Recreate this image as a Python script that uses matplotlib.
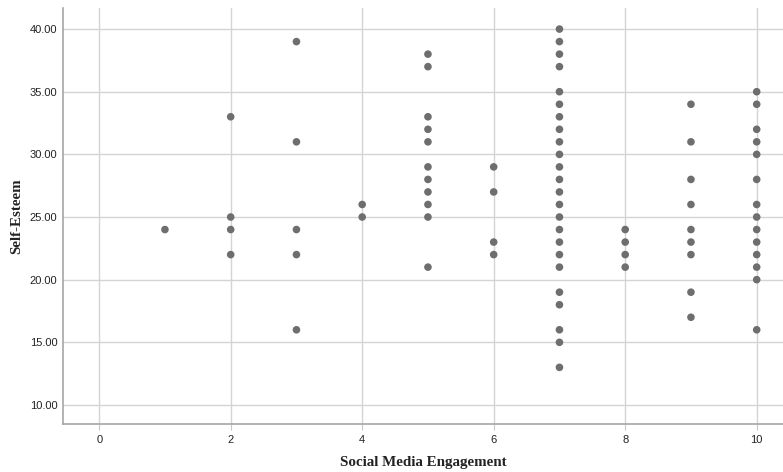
import matplotlib
matplotlib.use("Agg")
import matplotlib.pyplot as plt
import numpy as np

# Data: Social Media Engagement (x) vs Self-Esteem (y)
x1 = [1]
y1 = [24]
x2 = [2] * 4
y2 = [33, 25, 24, 22]
x3 = [3] * 5
y3 = [39, 31, 24, 22, 16]
x4 = [4] * 2
y4 = [26, 25]
x5 = [5] * 11
y5 = [38, 37, 33, 32, 31, 29, 28, 27, 26, 25, 21]
x6 = [6] * 4
y6 = [29, 27, 23, 22]
x7 = [7] * 24
y7 = [40, 39, 38, 37, 35, 34, 33, 32, 31, 30, 29, 28, 27, 26, 25, 24, 23, 22, 21, 19, 18, 16, 15, 13]
x8 = [8] * 4
y8 = [24, 23, 22, 21]
x9 = [9] * 9
y9 = [34, 31, 28, 26, 24, 23, 22, 19, 17]
x10 = [10] * 14
y10 = [35, 34, 32, 31, 30, 28, 26, 25, 24, 23, 22, 21, 20, 16]

xs = x1 + x2 + x3 + x4 + x5 + x6 + x7 + x8 + x9 + x10
ys = y1 + y2 + y3 + y4 + y5 + y6 + y7 + y8 + y9 + y10

x_ticks = [0, 2, 4, 6, 8, 10]
y_ticks = [10, 15, 20, 25, 30, 35, 40]

fig = plt.figure(figsize=(7.83, 4.72), dpi=100)
ax = fig.add_axes([0.0805, 0.1017, 0.9195, 0.8813])

ax.set_xlim(-0.55, 10.4)
ax.set_ylim(8.48, 41.68)

ax.set_xticks(x_ticks)
ax.set_yticks(y_ticks)
ax.set_yticklabels([f"{v:.2f}" for v in y_ticks])

ax.grid(True, color="#d4d4d4", linewidth=1.0)
ax.set_axisbelow(True)

ax.scatter(xs, ys, s=30, color="#6e6e6e", edgecolors="none", zorder=3)

for s in ["top", "right"]:
    ax.spines[s].set_visible(False)
for s in ["left", "bottom"]:
    ax.spines[s].set_color("#a6a6a6")
    ax.spines[s].set_linewidth(1.2)

ax.tick_params(axis="x", length=4, color="#c8c8c8", labelsize=8, labelcolor="#222222", pad=4)
ax.tick_params(axis="y", length=0, labelsize=8, labelcolor="#222222", pad=4)
for lab in ax.get_xticklabels() + ax.get_yticklabels():
    lab.set_family("Liberation Sans")

ax.set_xlabel("Social Media Engagement", family="Liberation Serif", fontweight="bold", fontsize=10.8, labelpad=8, color="#222222")
ax.set_ylabel("Self-Esteem", family="Liberation Serif", fontweight="bold", fontsize=10.8, labelpad=5, color="#222222")

fig.savefig("out.png", dpi=100)
